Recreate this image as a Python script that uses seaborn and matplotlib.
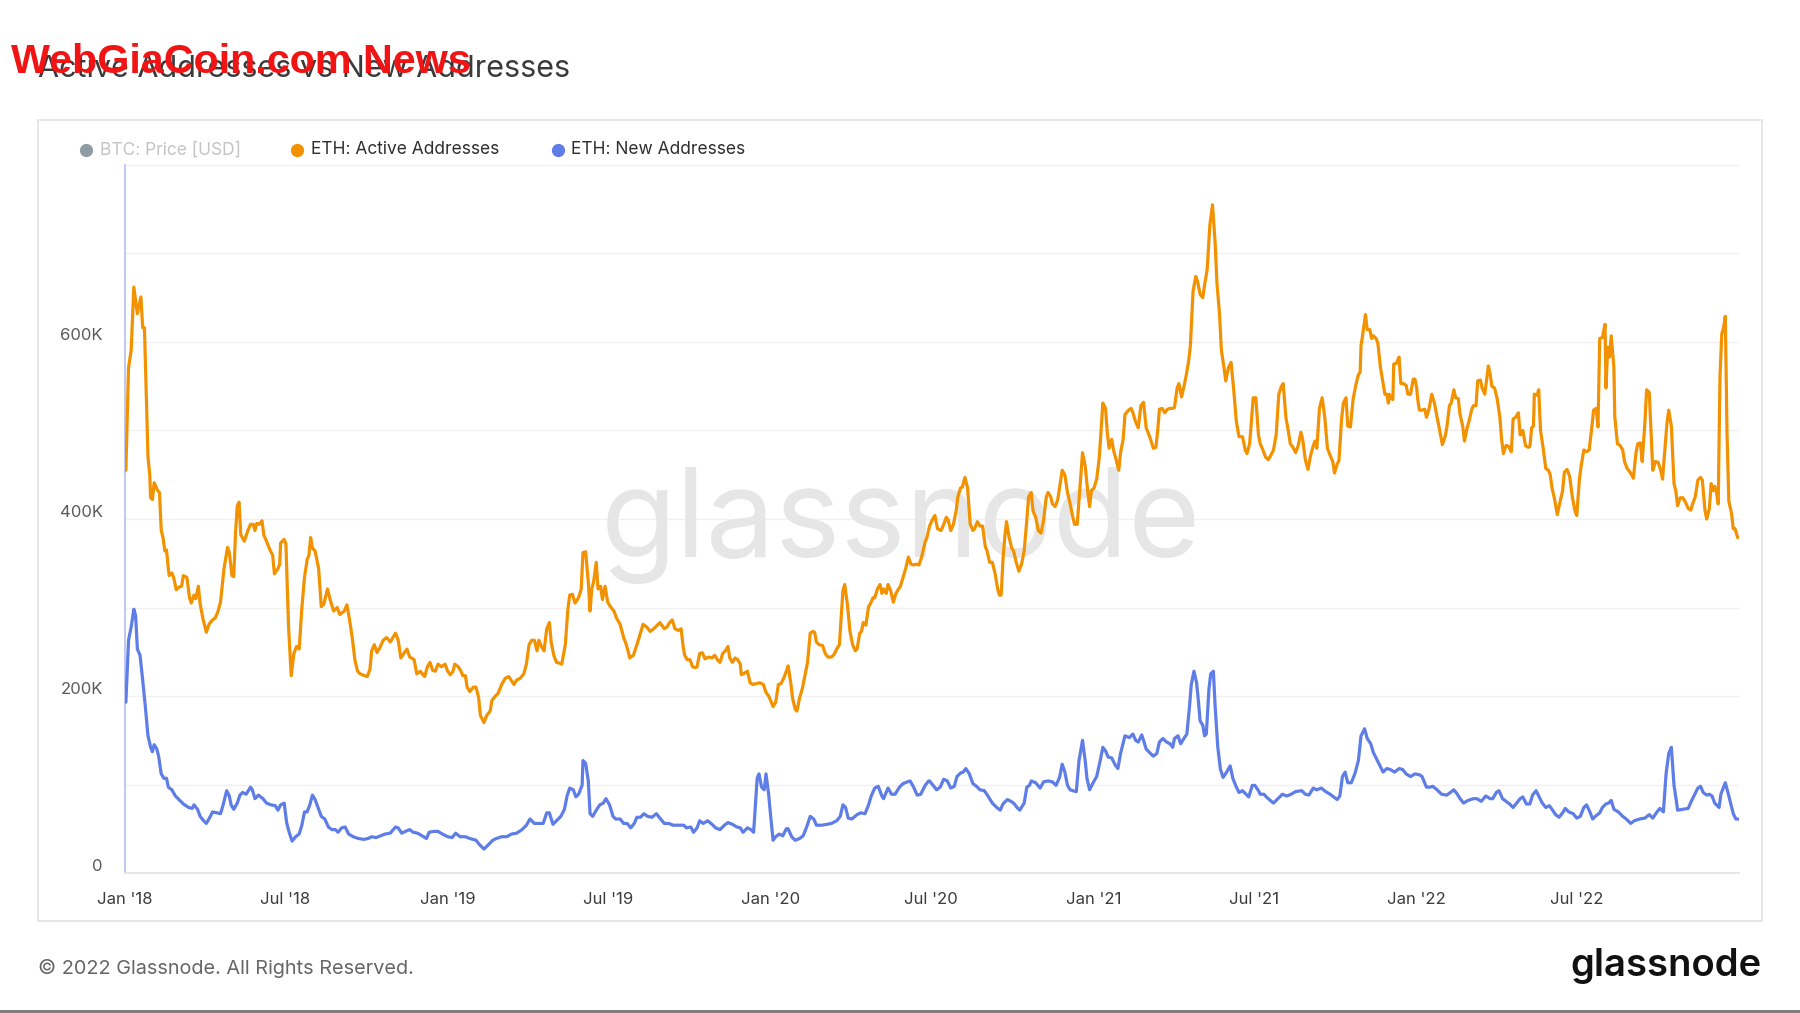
import numpy as np
import pandas as pd
import matplotlib
matplotlib.use("Agg")
import matplotlib.pyplot as plt
import seaborn as sns
from matplotlib.ticker import FixedLocator, FuncFormatter, MultipleLocator
from matplotlib.transforms import ScaledTranslation
from matplotlib.patches import Rectangle
from matplotlib.lines import Line2D

sns.set_theme(style="white")
plt.rcParams["font.family"] = ["Inter", "DejaVu Sans"]

# ---------------- data (days since 2018-01-01, values in thousands) ----------------
START = "2018-01-01"
END_DAY = 1825.5

active_days = [
    1, 4, 7, 10, 14, 18, 20, 22, 26, 28, 29, 31, 33, 37, 39, 41, 43, 45, 47, 49, 50, 53, 55, 58, 61, 64, 66, 70, 73, 75,
    78, 80, 83, 85, 88, 92, 95, 99, 102, 105, 108, 112, 116, 118, 121, 123, 125, 127, 129, 131, 135, 139, 142, 145, 147,
    149, 152, 155, 157, 160, 164, 167, 169, 173, 175, 176, 180, 182, 185, 188, 191, 194, 197, 200, 203, 206, 208, 210,
    212, 215, 219, 222, 225, 229, 232, 236, 240, 243, 248, 251, 254, 257, 260, 263, 266, 271, 274, 277, 279, 282, 285,
    288, 292, 296,
    300, 306, 309, 312, 316, 319, 322, 324, 327, 330, 334, 337, 339, 342, 345, 348, 351, 354, 358, 362, 365, 368, 371,
    373, 377, 380, 382, 385, 387, 390, 394, 397, 400, 402, 406, 409, 413, 415, 419, 422, 426, 430, 434, 436, 440, 443,
    447, 451, 454, 457, 460, 463, 466, 468, 471, 474, 477, 480, 482, 485, 488, 492, 494, 498, 501, 503, 506, 509, 513,
    516, 518, 521, 524, 526, 528, 530, 533, 535, 538, 540, 543, 546, 549, 553, 556, 560, 564, 567, 571, 575, 579, 582,
    586, 590, 594, 598, 603,
    605, 610, 613, 616, 619, 622, 626, 629, 631, 633, 636, 639, 642, 645, 647, 650, 653, 656, 660, 664, 667, 670, 673,
    676, 679, 682, 684, 687, 690, 693, 696, 697, 701, 704, 707, 710, 714, 718, 722, 725, 728, 731, 733, 736, 739, 742,
    745, 748, 750, 753, 755, 758, 760, 763, 766, 769, 772, 775, 778, 780, 782, 785, 789, 792, 795, 799, 802, 805, 808,
    810, 812, 814, 817, 820, 823, 826, 828, 831, 833, 835, 838, 841, 843, 846, 848, 851, 854, 856, 858, 861, 863, 866,
    869, 872, 875, 877, 880, 883, 886, 889, 892, 895, 898, 901, 905, 907,
    910, 913, 916, 919, 923, 926, 929, 931, 934, 937, 940, 942, 945, 947, 950, 953, 956, 959, 961, 964, 967, 970, 973,
    975, 978, 981, 984, 987, 989, 991, 993, 995, 997, 1000, 1003, 1005, 1008, 1011, 1014, 1017, 1020, 1022, 1025, 1027,
    1030, 1033, 1036, 1039, 1042, 1044, 1047, 1049, 1052, 1055, 1057, 1060, 1063, 1066, 1069, 1072, 1074, 1077, 1080,
    1083, 1086, 1089, 1091, 1093, 1096, 1099, 1102, 1104, 1106, 1109, 1111, 1113, 1116, 1118, 1121, 1124, 1126, 1129,
    1131, 1135, 1138, 1140, 1143, 1146, 1149, 1152, 1155, 1157, 1160, 1163, 1166, 1168, 1170, 1173, 1176, 1179, 1182,
    1185, 1187, 1190, 1192, 1195, 1198, 1200, 1203, 1205, 1208, 1211, 1213,
    1216, 1219, 1221, 1224, 1227, 1230, 1233, 1235, 1238, 1240, 1243, 1245, 1248, 1251, 1254, 1257, 1260, 1264, 1267,
    1269, 1272, 1274, 1276, 1279, 1282, 1284, 1287, 1290, 1293, 1296, 1299, 1302, 1305, 1308, 1310, 1313, 1316, 1318,
    1321, 1324, 1327, 1330, 1332, 1335, 1338, 1341, 1344, 1346, 1348, 1351, 1354, 1357, 1360, 1363, 1366, 1368, 1371,
    1373, 1376, 1378, 1381, 1383, 1386, 1389, 1392, 1395, 1397, 1398, 1400, 1403, 1405, 1408, 1410, 1412, 1415, 1417,
    1420, 1423, 1425, 1427, 1429, 1430, 1432, 1434, 1435, 1438, 1441, 1443, 1446, 1449, 1451, 1454, 1457, 1459, 1461,
    1462, 1464, 1467, 1470, 1472, 1475, 1478, 1481, 1484, 1487, 1490, 1493, 1495, 1498, 1500, 1503, 1505, 1508, 1510,
    1513, 1515, 1518, 1520,
    1523, 1525, 1528, 1530, 1533, 1535, 1538, 1540, 1542, 1544, 1546, 1549, 1552, 1555, 1557, 1559, 1562, 1565, 1568,
    1570, 1573, 1576, 1578, 1581, 1584, 1587, 1589, 1591, 1593, 1594, 1597, 1599, 1601, 1604, 1607, 1610, 1612, 1614,
    1617, 1620, 1623, 1626, 1628, 1631, 1634, 1637, 1640, 1642, 1645, 1647, 1650, 1653, 1656, 1659, 1661, 1664, 1666,
    1668, 1671, 1674, 1675, 1677, 1679, 1681, 1684, 1685, 1688, 1691, 1694, 1696, 1699, 1703, 1706, 1709, 1711, 1714,
    1716, 1719, 1721, 1724, 1726, 1728, 1731, 1734, 1737, 1739, 1741, 1744, 1746, 1749, 1752, 1754, 1756, 1759, 1762,
    1765, 1768, 1771, 1773, 1776, 1779, 1782, 1784, 1787, 1789, 1792, 1794, 1796, 1798, 1800, 1802, 1804, 1806, 1808,
    1810, 1812, 1814, 1817, 1819, 1821, 1824,
]
active_k = [
    455, 571, 591, 662, 632, 651, 616, 616, 470, 450, 424, 422, 441, 432, 430, 387, 379, 364, 365, 344, 336, 339, 334,
    320, 323, 324, 336, 334, 311, 305, 314, 310, 324, 304, 288, 272, 281, 286, 288, 295, 306, 344, 368, 362, 336, 335,
    384, 415, 419, 382, 375, 387, 394, 394, 387, 395, 394, 398, 382, 375, 365, 359, 338, 344, 349, 373, 377, 372, 278,
    223, 248, 256, 253, 299, 334, 354, 359, 379, 367, 364, 344, 301, 304, 321, 309, 296, 300, 292, 296, 303, 286, 266,
    241, 228, 225, 223, 222, 230, 251, 258, 249, 254, 263, 266,
    261, 271, 263, 243, 249, 253, 244, 243, 241, 225, 228, 224, 222, 233, 238, 229, 228, 236, 233, 236, 228, 224, 228,
    236, 233, 228, 223, 223, 210, 205, 210, 210, 198, 178, 170, 178, 183, 195, 200, 203, 213, 220, 222, 219, 213, 218,
    220, 225, 236, 258, 263, 263, 251, 263, 256, 251, 276, 283, 261, 246, 238, 237, 236, 258, 299, 314, 315, 305, 311,
    321, 362, 363, 329, 296, 321, 329, 351, 321, 324, 309, 324, 306, 301, 296, 288, 281, 266, 258, 243, 246, 258, 268,
    281, 278, 273, 276, 281,
    283, 276, 278, 283, 286, 276, 274, 276, 258, 246, 241, 241, 233, 232, 233, 248, 249, 242, 244, 243, 246, 241, 238,
    248, 251, 256, 243, 238, 243, 241, 236, 224, 226, 228, 215, 213, 214, 215, 213, 204, 200, 193, 188, 193, 213, 214,
    220, 228, 234, 215, 198, 185, 183, 198, 208, 223, 238, 271, 273, 272, 261, 258, 257, 248, 244, 244, 247, 253, 258,
    288, 319, 326, 304, 273, 258, 251, 253, 271, 273, 283, 280, 301, 304, 311, 311, 321, 326, 316, 321, 316, 326, 319,
    306, 316, 321, 324, 334, 344, 357, 349, 348, 349, 348, 357, 374, 379,
    392, 399, 404, 389, 387, 394, 402, 399, 387, 394, 409, 425, 435, 436, 447, 435, 394, 387, 389, 397, 392, 392, 369,
    364, 351, 351, 339, 321, 314, 314, 354, 379, 397, 379, 367, 364, 351, 341, 349, 364, 399, 425, 430, 409, 402, 387,
    384, 399, 425, 430, 425, 417, 414, 422, 435, 455, 450, 430, 417, 402, 394, 394, 435, 475, 460, 430, 414, 432, 435,
    445, 470, 500, 531, 525, 498, 480, 490, 478, 467, 455, 475, 490, 518, 523, 525, 520, 510, 503, 528, 532, 503, 498,
    490, 480, 481, 500, 524, 525, 520, 524, 525, 525, 526, 548, 553, 538, 551, 561, 578, 596, 657, 674, 669,
    654, 650, 664, 682, 732, 755, 712, 667, 631, 591, 571, 556, 571, 577, 546, 510, 493, 493, 478, 474, 485, 510, 537,
    537, 495, 485, 478, 470, 467, 472, 478, 495, 541, 550, 553, 515, 498, 485, 481, 475, 483, 498, 490, 467, 456, 472,
    483, 488, 480, 525, 537, 515, 480, 472, 465, 452, 462, 466, 513, 531, 537, 505, 504, 535, 551, 563, 566, 596, 609,
    631, 614, 614, 604, 607, 604, 599, 571, 553, 541, 541, 531, 541, 536, 535, 575, 576, 583, 553, 553, 551, 541, 541,
    558, 558, 548, 536, 523, 523, 524, 515, 525, 541, 531, 515, 500, 484, 493, 503, 528, 531, 546, 537, 536, 518, 505,
    488, 503, 510,
    523, 528, 528, 556, 557, 548, 541, 557, 573, 564, 550, 548, 536, 515, 490, 474, 483, 482, 476, 513, 515, 520, 495,
    500, 483, 481, 482, 503, 505, 541, 540, 546, 500, 480, 457, 455, 450, 435, 422, 405, 419, 432, 453, 456, 448, 425,
    409, 404, 445, 460, 478, 476, 478, 503, 523, 525, 504, 604, 605, 620, 548, 594, 583, 607, 571, 516, 485, 483, 478,
    465, 457, 452, 446, 475, 485, 486, 465, 508, 546, 543, 500, 455, 465, 464, 455, 445, 470, 508, 523, 505, 440, 432,
    415, 424, 424, 419, 412, 410, 417, 425, 444, 447, 444, 410, 400, 412, 440, 432, 437, 430, 417, 561, 609, 616, 629,
    495, 420, 407, 389, 389, 379,
]

new_days = [
    1, 4, 7, 10, 12, 14, 17, 20, 23, 26, 29, 31, 33, 36, 38, 41, 44, 47, 49, 53, 57, 62, 66, 72, 76, 78, 82, 85, 89, 92,
    96, 99, 104, 108, 111, 115, 118, 120, 123, 127, 130, 133, 137, 142, 144, 147, 151, 156, 160, 165, 170, 173, 176, 180,
    183, 186, 189, 193, 197, 200, 203, 206, 209, 212, 215, 219, 222, 226, 230, 234, 238, 241, 245, 249, 253, 258, 264,
    270, 275, 279, 284, 289, 294,
    300, 306, 309, 313, 317, 322, 326, 331, 336, 341, 344, 349, 354, 359, 365, 370, 374, 379, 385, 390, 397, 401, 406,
    411, 416, 420, 426, 432, 437, 443, 449, 454, 458, 463, 468, 473, 477, 480, 484, 488, 493, 497, 500, 503, 507, 510,
    513, 517, 518, 521, 524, 526, 529, 533, 537, 541, 544, 548, 552, 555, 560, 564, 568, 572, 576, 579, 583, 587, 591,
    596, 601,
    605, 610, 615, 620, 626, 632, 635, 640, 643, 647, 650, 654, 659, 664, 668, 673, 678, 682, 687, 692, 696, 699, 704,
    708, 711, 713, 715, 717, 720, 723, 725, 728, 730, 733, 736, 740, 744, 748, 750, 754, 758, 763, 767, 771, 775, 779,
    782, 788, 794, 799, 805, 809, 812, 815, 818, 822, 828, 832, 837, 841, 844, 848, 852, 856, 858, 863, 867, 871, 876,
    880, 885, 888, 892, 896, 900, 905, 909,
    910, 914, 918, 922, 926, 930, 934, 938, 941, 945, 948, 951, 955, 959, 963, 967, 972, 976, 981, 986, 990, 993, 998,
    1002, 1005, 1009, 1012, 1017, 1020, 1023, 1025, 1030, 1035, 1039, 1044, 1049, 1053, 1057, 1060, 1063, 1066, 1069,
    1072, 1076, 1079, 1083, 1086, 1088, 1091, 1095, 1099, 1103, 1106, 1109, 1112, 1116, 1120, 1123, 1126, 1129, 1131,
    1136, 1140, 1143, 1146, 1150, 1152, 1155, 1159, 1163, 1167, 1170, 1174, 1178, 1182, 1185, 1187, 1191, 1194, 1197,
    1201, 1204, 1206, 1209, 1212, 1214,
    1216, 1219, 1221, 1223, 1226, 1228, 1231, 1233, 1236, 1239, 1242, 1246, 1250, 1253, 1257, 1260, 1264, 1268, 1271,
    1275, 1278, 1282, 1284, 1288, 1293, 1299, 1304, 1309, 1314, 1319, 1324, 1331, 1335, 1339, 1344, 1348, 1353, 1358,
    1363, 1367, 1371, 1374, 1377, 1380, 1383, 1387, 1391, 1395, 1398, 1402, 1405, 1409, 1412, 1415, 1419, 1423, 1427,
    1431, 1436, 1441, 1445, 1449, 1454, 1459, 1464, 1467, 1472, 1476, 1479, 1484, 1489, 1495, 1499, 1503, 1507, 1510,
    1514, 1519,
    1525, 1529, 1534, 1539, 1544, 1547, 1551, 1554, 1558, 1562, 1566, 1570, 1574, 1578, 1581, 1585, 1589, 1592, 1596,
    1599, 1603, 1607, 1611, 1614, 1618, 1622, 1626, 1629, 1633, 1638, 1642, 1646, 1650, 1653, 1656, 1660, 1663, 1668,
    1671, 1675, 1678, 1681, 1684, 1689, 1694, 1698, 1703, 1707, 1713, 1719, 1724, 1728, 1732, 1736, 1740, 1743, 1746,
    1749, 1752, 1755, 1756, 1762, 1768, 1772, 1775, 1779, 1782, 1785, 1789, 1792, 1795, 1798, 1803, 1805, 1810, 1814,
    1819, 1822, 1825,
]
new_k = [
    193, 263, 278, 298, 291, 253, 246, 218, 188, 155, 142, 137, 145, 140, 132, 112, 107, 107, 97, 94, 87, 82, 78, 74, 73,
    77, 72, 64, 59, 56, 63, 69, 68, 67, 77, 93, 87, 77, 72, 79, 88, 91, 89, 97, 94, 84, 88, 84, 79, 77, 76, 71, 77, 79,
    56, 45, 36, 41, 44, 54, 69, 69, 77, 88, 83, 72, 64, 61, 52, 49, 49, 46, 51, 52, 44, 41, 39, 38, 39, 41, 40, 42, 44,
    45, 52, 51, 45, 47, 49, 46, 45, 42, 39, 46, 47, 47, 44, 41, 40, 45, 41, 41, 39, 37, 32, 27, 32, 37, 39, 41, 41, 44,
    45, 49, 54, 61, 56, 56, 56, 68, 68, 55, 59, 64, 72, 87, 96, 94, 86, 89, 99, 127, 124, 104, 67, 64, 71, 77, 79, 84,
    77, 64, 61, 61, 56, 56, 51, 56, 63, 63, 67, 64, 63, 67,
    62, 56, 56, 54, 54, 54, 51, 52, 46, 51, 59, 56, 59, 55, 51, 49, 54, 57, 55, 52, 51, 46, 51, 49, 46, 77, 107, 112, 97,
    94, 112, 89, 67, 37, 41, 44, 42, 50, 50, 41, 37, 39, 42, 52, 64, 61, 54, 54, 55, 56, 59, 64, 77, 74, 62, 61, 66, 68,
    67, 77, 87, 96, 98, 87, 84, 96, 89, 89, 97, 101, 103, 104, 97, 88, 89, 99, 104,
    104, 99, 94, 97, 106, 104, 96, 98, 109, 113, 114, 118, 112, 101, 98, 94, 93, 87, 79, 74, 71, 78, 83, 81, 79, 74, 71,
    79, 97, 99, 104, 102, 96, 103, 104, 103, 99, 108, 123, 114, 99, 94, 93, 92, 127, 150, 127, 107, 94, 102, 109, 127,
    142, 138, 131, 130, 122, 118, 135, 147, 155, 153, 157, 150, 148, 156, 150, 140, 136, 132, 135, 148, 152, 148, 146,
    142, 152, 155, 146, 151, 157, 188, 213, 228, 215, 195,
    172, 167, 155, 157, 208, 225, 228, 188, 142, 117, 108, 114, 121, 107, 97, 91, 93, 89, 86, 99, 99, 93, 89, 89, 84, 79,
    84, 89, 87, 89, 92, 93, 89, 88, 96, 94, 96, 92, 89, 86, 83, 87, 109, 114, 102, 102, 112, 127, 155, 163, 152, 146,
    136, 130, 122, 114, 118, 117, 114, 118, 117, 112, 109, 112, 111, 109, 97, 97, 98, 94, 89, 88, 91, 94, 89, 84, 79, 82,
    84, 84, 81, 87, 84, 84, 91, 93, 84, 81, 78, 74, 79, 84, 86, 78, 78, 88, 93, 87, 79, 74, 76, 72, 66, 63, 68, 73, 69,
    67, 62, 64, 74, 77, 71, 61, 64, 68, 74, 78, 79, 82, 72, 69, 64, 61, 56, 59, 61, 62, 66, 62, 68, 73, 69, 112, 135,
    142, 99, 79, 71, 72, 73, 82, 88, 96, 98, 91, 88, 89, 87, 79, 74, 89, 102, 87, 67, 61, 61,
]

series_names = ["ETH: Active Addresses", "ETH: New Addresses"]
legend_labels = ["BTC: Price [USD]", "ETH: Active Addresses", "ETH: New Addresses"]
xtick_dates = ["2018-01-01", "2018-07-01", "2019-01-01", "2019-07-01", "2020-01-01", "2020-07-01",
               "2021-01-01", "2021-07-01", "2022-01-01", "2022-07-01"]
xtick_labels = ["Jan '18", "Jul '18", "Jan '19", "Jul '19", "Jan '20", "Jul '20",
                "Jan '21", "Jul '21", "Jan '22", "Jul '22"]
ytick_values = [0, 200000, 400000, 600000]
ytick_labels = ["0", "200K", "400K", "600K"]

# ---------------- styling ----------------
ORANGE = "#F39200"
BLUE = "#5E7DE6"
GREY_DOT = "#8E9CA4"

start = pd.Timestamp(START)
df = pd.concat([
    pd.DataFrame({"date": start + pd.to_timedelta(active_days, unit="D"),
                  "value": np.array(active_k) * 1000.0, "series": series_names[0]}),
    pd.DataFrame({"date": start + pd.to_timedelta(new_days, unit="D"),
                  "value": np.array(new_k) * 1000.0, "series": series_names[1]}),
], ignore_index=True)

W, H = 1800, 1013
fig = plt.figure(figsize=(W / 100, H / 100), dpi=100)
fig.patch.set_facecolor("white")


def fx(px):
    return px / W


def fy(py):
    return 1 - py / H


# outer chart frame
fig.add_artist(Rectangle((fx(38), fy(921)), fx(1762) - fx(38), fy(120) - fy(921),
                         transform=fig.transFigure, fill=False, edgecolor="#e3e3e3", lw=1.2))
# bottom grey bar
fig.add_artist(Rectangle((0, 0), 1, 3 / H, transform=fig.transFigure,
                         facecolor="#7d7d7d", edgecolor="none"))

ax = fig.add_axes([fx(125), fy(873), fx(1739) - fx(125), fy(165) - fy(873)])
ax.set_facecolor("none")

sns.lineplot(data=df, x="date", y="value", hue="series",
             palette={series_names[0]: ORANGE, series_names[1]: BLUE},
             estimator=None, sort=False, linewidth=2.3, legend=False, ax=ax, zorder=3)

ax.set_xlim(start, start + pd.Timedelta(days=END_DAY))
ax.set_ylim(0, 800000)
ax.set_xlabel("")
ax.set_ylabel("")

# grid
ax.yaxis.set_major_locator(MultipleLocator(100000))
ax.yaxis.set_major_formatter(FuncFormatter(
    lambda v, p: ytick_labels[ytick_values.index(int(round(v)))] if int(round(v)) in ytick_values else ""))
ax.grid(axis="y", color="#f0f0f0", lw=1.0, zorder=0)
ax.grid(axis="x", visible=False)
ax.tick_params(axis="y", length=0, pad=16, labelsize=12, labelcolor="#5a5a5a")
for lab in ax.get_yticklabels():
    lab.set_transform(lab.get_transform() + ScaledTranslation(0, 8 / 100, fig.dpi_scale_trans))

ax.xaxis.set_major_locator(FixedLocator([
    matplotlib.dates.date2num(pd.Timestamp(d)) for d in xtick_dates]))
ax.set_xticklabels(xtick_labels)
ax.tick_params(axis="x", length=9, width=1, color="#ececec", pad=4.5,
               labelsize=12, labelcolor="#3c3c3c")

for s in ["top", "right"]:
    ax.spines[s].set_visible(False)
ax.spines["bottom"].set_color("#e3e3e3")
ax.spines["bottom"].set_linewidth(1.2)
ax.spines["left"].set_color("#b3c0f2")
ax.spines["left"].set_linewidth(1.2)

# watermark
ax.text((901 - 125) / (1739 - 125), (873 - 557) / (873 - 165), "glassnode",
        transform=ax.transAxes, ha="center", va="baseline", fontsize=89,
        color="#e6e6e6", zorder=1)

# legend (custom)
leg_y = 150
leg_items = [(86, 100, GREY_DOT, "#c4c4c4"), (297, 311, ORANGE, "#2f2f2f"), (558, 571, BLUE, "#2f2f2f")]
for (dx, tx, dc, tc), lab in zip(leg_items, legend_labels):
    fig.add_artist(Line2D([fx(dx)], [fy(leg_y)], marker="o", markersize=8.5, color=dc,
                          linestyle="none", transform=fig.transFigure))
    fig.text(fx(tx), fy(leg_y), lab, ha="left", va="center", fontsize=12.5, color=tc)

# title
fig.text(fx(38), fy(77), "Active Addresses vs New Addresses", ha="left", va="baseline",
         fontsize=22, color="#3a3a3a")

# overlay red caption, fitted to its width in the reference
red = fig.text(fx(11), fy(73), "WebGiaCoin.com News", ha="left", va="baseline", fontsize=34,
               fontweight="heavy", color="#f01414",
               family=["DejaVu Sans Condensed", "Liberation Sans", "DejaVu Sans"])
fig.canvas.draw()
bb = red.get_window_extent(renderer=fig.canvas.get_renderer())
target_w = 460.0
if bb.width > 0:
    red.set_fontsize(34 * target_w / bb.width)

# footer
fig.text(fx(38), fy(968), "\u00a9 2022 Glassnode. All Rights Reserved.", ha="left", va="center",
         fontsize=14.3, color="#666666")
fig.text(fx(1762), fy(966), "glassnode", ha="right", va="center", fontsize=27.5,
         fontweight="semibold", color="#111111")

fig.savefig("out.png", dpi=100)
